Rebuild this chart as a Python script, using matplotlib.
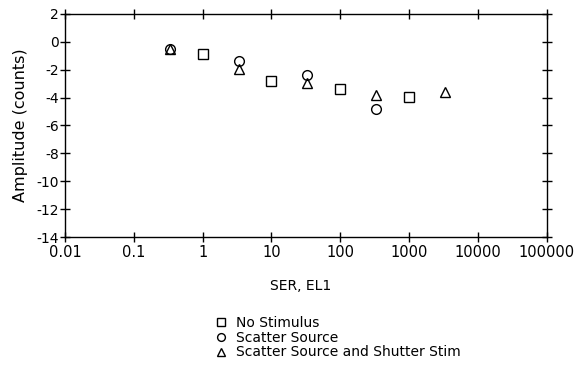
import matplotlib
matplotlib.use('Agg')
import matplotlib.pyplot as plt
from matplotlib.ticker import FixedLocator, FixedFormatter, NullLocator

plt.rcParams['font.family'] = ['DejaVu Sans']
plt.rcParams['axes.unicode_minus'] = False

# data
no_stim_x = [1, 10, 100, 1000]
no_stim_y = [-0.88, -2.81, -3.38, -3.95]

scatter_x = [0.333, 3.33, 33.3, 333]
scatter_y = [-0.5, -1.38, -2.38, -4.79]

shutter_x = [0.333, 3.33, 33.3, 333, 3333]
shutter_y = [-0.52, -1.93, -2.95, -3.79, -3.59]

x_ticks = [0.01, 0.1, 1, 10, 100, 1000, 10000, 100000]
x_labels = ['0.01', '0.1', '1', '10', '100', '1000', '10000', '100000']
y_ticks = list(range(-14, 3, 2))

fig = plt.figure(figsize=(5.75, 3.74), dpi=100)
ax = fig.add_axes([0.113, 0.3663, 0.838, 0.5963])

mk = dict(linestyle='none', markerfacecolor='none', markeredgecolor='black',
          markeredgewidth=1.0, markersize=7)
ax.plot(no_stim_x, no_stim_y, marker='s', label='No Stimulus', **mk)
ax.plot(scatter_x, scatter_y, marker='o', label='Scatter Source', **mk)
ax.plot(shutter_x, shutter_y, marker='^', label='Scatter Source and Shutter Stim', **mk)

ax.set_xscale('log')
ax.set_xlim(0.01, 100000)
ax.set_ylim(-14, 2)
ax.xaxis.set_major_locator(FixedLocator(x_ticks))
ax.xaxis.set_major_formatter(FixedFormatter(x_labels))
ax.xaxis.set_minor_locator(NullLocator())
ax.set_yticks(y_ticks)

ax.tick_params(axis='both', direction='inout', length=7, width=1,
               top=True, right=True)
ax.tick_params(axis='x', labelsize=10.5, pad=2)
ax.tick_params(axis='y', labelsize=10, pad=1)
for s in ax.spines.values():
    s.set_linewidth(1)

ax.set_ylabel('Amplitude (counts)', fontsize=11.5, labelpad=6)
ax.set_xlabel('SER, EL1', fontsize=10)
ax.xaxis.set_label_coords(0.49, -0.188)

fig.legend(loc='upper left', bbox_to_anchor=(0.377, 0.155), frameon=False,
           fontsize=10, handletextpad=0.8, labelspacing=0.05, handlelength=0.6,
           markerscale=0.8, borderpad=0, borderaxespad=0)

fig.savefig('out.png', dpi=100)
